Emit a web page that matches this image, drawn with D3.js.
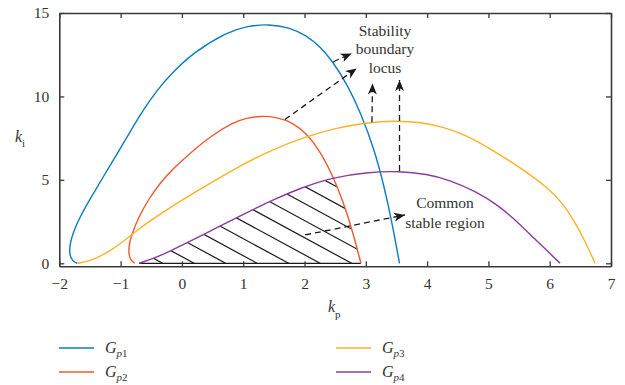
<!DOCTYPE html>
<html>
<head>
<meta charset="utf-8">
<script src="https://cdn.jsdelivr.net/npm/d3@7/dist/d3.min.js"></script>
<style>
  html, body { margin: 0; padding: 0; background: #fff; }
  svg { display: block; }
  text { font-family: "Liberation Serif", "DejaVu Serif", serif; fill: #333; }
</style>
</head>
<body>
<svg id="chart" width="625" height="385"></svg>
<script>
// Stability boundary loci in the (kp, ki) plane, one closed arc per plant
const kpTicks = [-2, -1, 0, 1, 2, 3, 4, 5, 6, 7];
const kiTicks = [0, 5, 10, 15];
const seriesNames = ["p1", "p2", "p3", "p4"];
const seriesColors = ["#0a7cc2", "#f2582a", "#fcb224", "#8a3b9e"];

// [kp, ki] points along each locus
const gp1 = [[-1.71,0],[-1.79,0.15],[-1.835,0.55],[-1.83,1.1],[-1.77,1.9],[-1.66,2.8],[-1.49,3.9],
  [-1.28,5.2],[-1.05,6.6],[-0.85,7.85],[-0.63,9.2],[-0.40,10.4],[-0.19,11.3],[0.19,12.65],[0.73,13.85],
  [1.05,14.2],[1.41,14.34],[1.75,14.15],[2.03,13.65],[2.25,13.0],[2.46,12.1],[2.70,10.7],[2.92,9.0],
  [3.14,6.8],[3.30,4.6],[3.43,2.4],[3.55,0]];
const gp2 = [[-0.77,0],[-0.84,0.2],[-0.87,0.6],[-0.86,1.2],[-0.80,1.9],[-0.70,2.8],[-0.55,3.8],
  [-0.35,4.85],[-0.12,5.75],[0.15,6.65],[0.46,7.6],[0.84,8.45],[1.05,8.7],[1.30,8.84],[1.55,8.75],
  [1.80,8.45],[2.03,7.8],[2.25,6.75],[2.46,5.25],[2.62,3.8],[2.78,2.0],[2.92,0]];
const gp3 = [[-1.71,0],[-1.52,0.1],[-1.25,0.55],[-0.97,1.25],[-0.73,2.0],[-0.3,3.1],[0.3,4.45],
  [0.85,5.65],[1.43,6.75],[2.03,7.6],[2.5,8.1],[3.0,8.43],[3.49,8.55],[3.9,8.45],[4.25,8.19],
  [4.65,7.65],[5.01,6.9],[5.5,5.8],[5.98,4.5],[6.2,3.65],[6.4,2.55],[6.58,1.3],[6.74,0]];
const gp4 = [[-0.70,0],[-0.45,0.3],[-0.2,0.72],[0.08,1.22],[0.5,2.0],[0.87,2.7],[1.2,3.28],[1.46,3.75],
  [1.92,4.5],[2.46,5.15],[3.0,5.45],[3.55,5.53],[4.0,5.35],[4.36,5.0],[4.8,4.3],[5.17,3.45],
  [5.45,2.55],[5.71,1.62],[5.95,0.78],[6.17,0]];
const series = [gp1, gp2, gp3, gp4];

// Annotation arrows: [fromKp, fromKi, toKp, toKi]
const boundaryArrows = [[2.47,12.08,2.77,12.58],[1.68,8.62,2.85,11.68],[3.10,8.45,3.11,10.78],[3.55,5.53,3.55,10.98]];
const regionArrow = [2.01,1.7,3.64,2.9];
const boundaryLabel = ["Stability", "boundary", "locus"];
const regionLabel = ["Common", "stable region"];

const svg = d3.select("#chart");
const x = d3.scaleLinear().domain([-2, 7]).range([59.3, 611]);
const y = d3.scaleLinear().domain([-0.18, 15]).range([266.3, 13]);

const line = d3.line().x(d => x(d[0])).y(d => y(d[1])).curve(d3.curveBasis);

const defs = svg.append("defs");
defs.append("clipPath").attr("id", "clipP4").append("path").attr("d", line(gp4) + "Z");
defs.append("clipPath").attr("id", "clipP2").append("path").attr("d", line(gp2) + "Z");
defs.append("marker")
  .attr("id", "head").attr("viewBox", "-12 -6 14 12")
  .attr("refX", 0).attr("refY", 0)
  .attr("markerWidth", 14).attr("markerHeight", 12)
  .attr("markerUnits", "userSpaceOnUse").attr("orient", "auto")
  .append("path").attr("d", "M0,0 L-11,-4.5 L-8,0 L-11,4.5 Z").attr("fill", "#1a1a1a");

// Hatched common stable region: under Gp4 and inside Gp2
const hatch = svg.append("g").attr("clip-path", "url(#clipP4)")
  .append("g").attr("clip-path", "url(#clipP2)");
const ang = 28.5 * Math.PI / 180;
const xb0 = x(0.2), yb = y(0), step = 31.5;
for (let i = -12; i <= 12; i++) {
  const xb = xb0 + i * step;
  hatch.append("line")
    .attr("x1", xb - 260 * Math.cos(ang)).attr("y1", yb - 260 * Math.sin(ang))
    .attr("x2", xb + 40 * Math.cos(ang)).attr("y2", yb + 40 * Math.sin(ang))
    .attr("stroke", "#1a1a1a").attr("stroke-width", 1.2);
}
svg.append("line")
  .attr("x1", x(gp4[0][0])).attr("x2", x(gp2[gp2.length - 1][0]))
  .attr("y1", y(0)).attr("y2", y(0))
  .attr("stroke", "#1a1a1a").attr("stroke-width", 1.3);

// Loci
series.forEach((s, i) => {
  svg.append("path").attr("d", line(s)).attr("fill", "none")
    .attr("stroke", seriesColors[i]).attr("stroke-width", 1.4);
});

// Frame and inward ticks
const axisStyle = g => {
  g.selectAll(".domain").attr("stroke", "#3a3a3a").attr("stroke-width", 1.6);
  g.selectAll(".tick line").attr("stroke", "#3a3a3a").attr("stroke-width", 1.3);
  g.selectAll("text").attr("fill", "#333").style("font-family", '"Liberation Serif", serif').style("font-size", "15.5px");
};
svg.append("g").attr("transform", `translate(0,${y(-0.18)})`)
  .call(d3.axisBottom(x).tickValues(kpTicks).tickSizeInner(-5).tickSizeOuter(0).tickPadding(11.5)).call(axisStyle);
svg.append("g").attr("transform", `translate(0,${y(15)})`)
  .call(d3.axisTop(x).tickValues(kpTicks).tickSizeInner(-5).tickSizeOuter(0).tickFormat("")).call(axisStyle);
svg.append("g").attr("transform", `translate(${x(-2)},0)`)
  .call(d3.axisLeft(y).tickValues(kiTicks).tickSizeInner(-5).tickSizeOuter(0).tickPadding(10)).call(axisStyle);
svg.append("g").attr("transform", `translate(${x(7)},0)`)
  .call(d3.axisRight(y).tickValues(kiTicks).tickSizeInner(-5).tickSizeOuter(0).tickFormat("")).call(axisStyle);

// Axis titles
const kpLabel = svg.append("text").attr("x", 328).attr("y", 312).style("font-size", "16px");
kpLabel.append("tspan").text("k").style("font-style", "italic");
kpLabel.append("tspan").text("p").attr("dy", 6).style("font-size", "11px");
const kiLabel = svg.append("text").attr("x", 15).attr("y", 142).style("font-size", "16px");
kiLabel.append("tspan").text("k").style("font-style", "italic");
kiLabel.append("tspan").text("i").attr("dy", 5).style("font-size", "11px");

// Annotations
const arrowLine = (a) => svg.append("line")
  .attr("x1", x(a[0])).attr("y1", y(a[1])).attr("x2", x(a[2])).attr("y2", y(a[3]))
  .attr("stroke", "#1a1a1a").attr("stroke-width", 1.3).attr("stroke-dasharray", "6,4")
  .attr("marker-end", "url(#head)");
boundaryArrows.forEach(arrowLine);
arrowLine(regionArrow);

const bl = svg.append("text").attr("text-anchor", "middle").style("font-size", "15.5px");
boundaryLabel.forEach((t, i) => bl.append("tspan").attr("x", 385).attr("y", 35.5 + i * 18.8).text(t));
const rl = svg.append("text").attr("text-anchor", "middle").style("font-size", "15.5px");
regionLabel.forEach((t, i) => rl.append("tspan").attr("x", 445).attr("y", 208 + i * 19.5).text(t));

// Legend
const legendPos = [[59, 348], [59, 372], [336, 348], [336, 372]];
seriesNames.forEach((n, i) => {
  const [lx, ly] = legendPos[i];
  svg.append("line").attr("x1", lx).attr("x2", lx + 35).attr("y1", ly).attr("y2", ly)
    .attr("stroke", seriesColors[i]).attr("stroke-width", 1.6);
  const t = svg.append("text").attr("x", lx + 46).attr("y", ly + 5).style("font-size", "16px");
  t.append("tspan").text("G").style("font-style", "italic");
  t.append("tspan").text(n[0]).attr("dy", 4).style("font-size", "11px").style("font-style", "italic");
  t.append("tspan").text(n.slice(1)).style("font-size", "11px");
});
</script>
</body>
</html>
